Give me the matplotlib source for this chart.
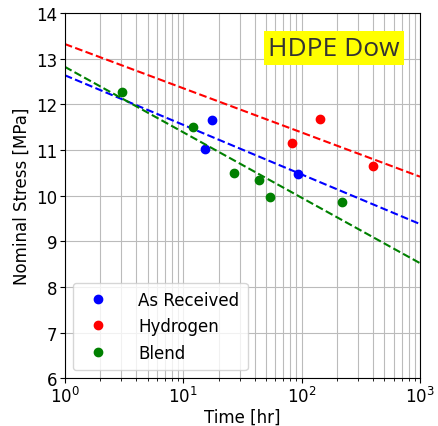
import numpy as np
import matplotlib.pyplot as plt

# tiempos [hr] y esfuerzos [MPa]
t_recibido = [15.2, 17.4, 93.3]
s_recibido = [11.02, 11.65, 10.47]

t_hidrogeno = [83.5, 144, 401]
s_hidrogeno = [11.16, 11.69, 10.64]

t_mezcla = [3.05, 12.0, 26.8, 43.6, 53.7, 221]
s_mezcla = [12.28, 11.51, 10.49, 10.35, 9.96, 9.86]

series = [
    ("As Received", "blue", t_recibido, s_recibido),
    ("Hydrogen", "red", t_hidrogeno, s_hidrogeno),
    ("Blend", "green", t_mezcla, s_mezcla),
]

fig = plt.figure(figsize=(4.38, 4.27), dpi=100)
ax = fig.add_axes([0.148, 0.112, 0.811, 0.855])

tt = np.logspace(0, 3, 50)
for nombre, color, t, s in series:
    ax.plot(t, s, "o", color=color, markersize=6, label=nombre)
    # ajuste lineal en log10(t)
    m, b = np.polyfit(np.log10(t), s, 1)
    ax.plot(tt, m * np.log10(tt) + b, "--", color=color, linewidth=1.5)

ax.set_xscale("log")
ax.set_xlim(1, 1e3)
ax.set_ylim(6, 14)
ax.grid(which="both", color="#bbbbbb", linewidth=0.8)
ax.tick_params(labelsize=12, pad=2)
ax.set_xlabel("Time [hr]", fontsize=12, labelpad=1)
ax.set_ylabel("Nominal Stress [MPa]", fontsize=12)

ax.text(0.943, 0.904, "HDPE Dow", transform=ax.transAxes, ha="right", va="center",
        fontsize=19, color="#333333", family=["Open Sans", "DejaVu Sans"],
        bbox=dict(facecolor="yellow", edgecolor="none", pad=3))

ax.legend(loc="lower left", fontsize=12, handletextpad=1.4, borderpad=0.5)

fig.savefig("out.png", dpi=100)
